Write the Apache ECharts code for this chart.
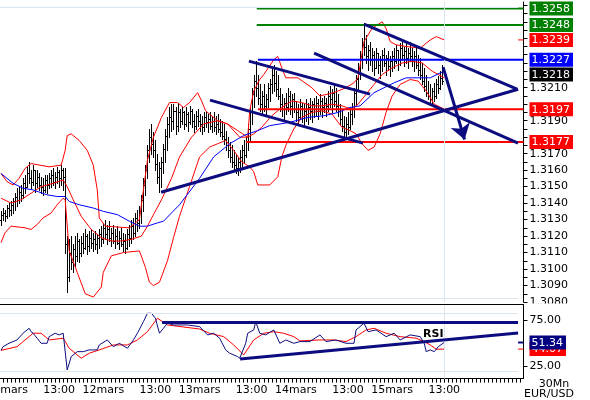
<!DOCTYPE html>
<html><head><meta charset="utf-8">
<script src="https://cdn.jsdelivr.net/npm/echarts@6/dist/echarts.min.js"></script>
<style>html,body{margin:0;padding:0;background:#fff}#c{width:590px;height:400px}</style>
</head><body><div id="c"></div>
<script>
// ---------- DATA (prices in pips above 1.3000, 30-min bars from 10mars 22:30) ----------
const opens = [130,133,134,132,137,136,139,141,144,142,147,145,152,150,158,155,153,160,152,156,
151,150,148,154,151,155,157,153,156,159,155,160,156,115,95,110,104,112,108,117,
110,116,113,120,114,119,116,118,115,119,121,118,125,121,124,119,122,117,120,116,
119,115,117,113,121,119,126,122,131,128,135,142,151,160,172,180,176,172,164,156,
161,165,173,181,188,192,190,196,187,195,190,195,188,194,189,196,190,187,193,190,
188,186,192,189,191,187,190,186,188,185,183,181,179,175,172,168,165,163,161,165,
168,172,169,177,185,195,206,214,210,204,200,205,199,203,210,212,218,213,209,205,
200,197,201,198,205,199,203,197,195,192,199,193,196,194,198,196,200,197,201,196,
202,198,201,199,205,203,207,202,199,196,191,187,183,188,186,194,197,207,215,222,
229,236,235,229,233,227,230,222,231,224,227,230,225,228,223,226,229,226,233,227,
234,230,232,228,231,229,226,229,224,221,218,214,211,207,205,203,208,205,212,210,216,214];
const highs = [135,137,136,139,140,141,143,146,149,150,151,155,157,162,165,160,163,160,160,158,
156,155,157,157,158,160,161,159,162,160,163,161,161,120,118,120,115,120,122,118,
120,122,124,121,123,124,122,123,121,124,126,128,130,127,129,125,127,124,126,123,
125,122,121,124,127,130,131,134,136,138,145,155,163,175,185,188,183,178,170,165,
168,176,185,192,198,200,200,198,201,197,198,196,198,195,199,197,194,196,197,194,
193,195,196,194,195,193,195,193,194,191,190,188,184,180,177,175,172,170,168,172,
175,178,180,188,198,210,218,226,218,212,208,212,206,213,215,222,224,220,218,210,
206,204,207,210,208,206,207,202,200,203,201,200,203,201,204,202,204,205,203,206,
204,205,204,208,211,209,213,210,206,200,197,193,192,195,198,201,210,218,225,232,
240,249,242,236,238,234,232,234,231,229,233,234,230,232,229,232,234,236,233,237,
238,235,237,234,238,234,232,235,230,228,225,222,218,214,212,210,213,215,217,220,224,222];
const lows = [127,130,129,131,132,133,134,136,138,140,141,143,146,150,152,149,151,147,150,148,
146,145,147,146,149,150,151,149,152,150,151,148,110,86,93,100,98,102,105,104,
108,110,112,109,111,113,111,112,110,113,114,116,118,115,117,114,116,113,115,112,
114,111,110,112,114,116,118,120,123,125,128,135,145,155,165,170,168,160,152,147,
150,158,165,172,180,184,185,182,184,186,188,185,187,184,188,186,183,185,187,184,
182,184,186,183,185,183,184,182,183,181,179,176,172,168,165,162,160,158,157,159,
162,165,168,172,178,188,198,205,200,196,194,196,193,198,202,207,208,205,203,196,
193,191,194,196,194,192,195,190,188,191,189,187,190,188,191,189,192,193,191,194,
192,195,193,196,198,195,199,196,193,188,184,180,179,182,185,188,192,200,208,215,
222,230,225,221,224,220,218,222,219,216,220,223,218,221,217,220,222,225,221,224,
227,223,225,222,226,223,220,222,218,215,212,208,205,203,201,200,202,204,207,209,212,213];
const closes = [133,134,132,137,136,139,141,144,142,147,145,152,150,158,155,153,160,152,156,151,
150,148,154,151,155,157,153,156,159,155,160,156,115,95,110,104,112,108,117,110,
116,113,120,114,119,116,118,115,119,121,118,125,121,124,119,122,117,120,116,119,
115,117,113,121,119,126,122,131,128,135,142,151,160,172,180,176,172,164,156,161,
165,173,181,188,192,190,196,187,195,190,195,188,194,189,196,190,187,193,190,188,
186,192,189,191,187,190,186,188,185,183,181,179,175,172,168,165,163,161,165,168,
172,169,177,185,195,206,214,210,204,200,205,199,203,210,212,218,213,209,205,200,
197,201,198,205,199,203,197,195,192,199,193,196,194,198,196,200,197,201,196,202,
198,201,199,205,203,207,202,199,196,191,187,183,188,186,194,197,207,215,222,229,
236,235,229,233,227,230,222,231,224,227,230,225,228,223,226,229,226,233,227,234,
230,232,228,231,229,226,229,224,221,218,214,211,207,205,203,208,205,212,210,216,214,218];

// Bollinger bands and moving average, read as [bar index, pips]
const upperBand = [[0,158],[3,153],[6,151],[9,155],[12,161],[15,164],[24,162],[30,163],[32,172],[33,181],[35,182],[39,178],[43,172],[46,163],[48,148],[49,131],[52,126],[64,125],[69,130],[71,148],[73,166],[76,180],[80,192],[84,201],[88,201],[91,198],[94,201],[98,207],[100,202],[102,196],[108,190],[113,188],[119,180],[123,180],[124,196],[126,208],[129,215],[131,218],[136,227],[138,229],[140,222],[142,216],[148,216],[155,210],[159,205],[166,207],[172,210],[176,213],[178,216],[181,238],[185,246],[190,250],[192,246],[194,238],[197,236],[202,235],[209,234],[214,239],[217,241],[221,239]];
const middleBand = [[0,143],[5,140],[10,142],[15,146],[20,150],[26,152],[31,154],[33,150],[36,142],[40,132],[45,124],[50,119],[55,117],[60,117],[65,118],[70,120],[73,126],[76,133],[80,142],[85,155],[89,168],[95,180],[101,188],[108,190],[113,188],[118,184],[123,180],[126,182],[130,186],[135,193],[140,198],[145,202],[150,201],[155,199],[160,199],[165,200],[170,199],[175,197],[178,200],[182,206],[186,212],[190,218],[195,222],[200,225],[205,226],[210,225],[215,220],[221,216]];
const lowerBand = [[0,116],[2,122],[5,126],[12,125],[15,124],[18,127],[21,131],[25,134],[28,139],[31,143],[32,142],[34,111],[38,98],[42,85],[46,83],[50,89],[51,98],[55,108],[61,110],[69,111],[72,101],[74,92],[76,90],[79,92],[83,105],[86,119],[89,132],[94,150],[99,168],[104,174],[108,176],[112,178],[116,172],[120,165],[124,162],[126,159],[128,151],[134,151],[138,156],[140,168],[142,175],[146,185],[150,192],[155,195],[160,196],[165,194],[170,186],[174,184],[177,182],[180,176],[183,172],[186,174],[189,182],[192,195],[195,205],[199,212],[204,215],[208,214],[212,208],[216,200],[221,197]];
const movingAvg = [[0,158],[3,155],[6,152],[11,149],[16,148],[23,145],[28,144],[32,144],[34,141],[39,139],[46,137],[51,135],[58,133],[64,129],[69,126],[73,126],[78,128],[81,129],[89,139],[99,155],[106,168],[114,176],[121,181],[128,184],[134,187],[144,189],[153,192],[161,193],[168,195],[174,198],[179,199],[186,207],[196,213],[202,216],[209,216],[214,216],[219,219],[221,220]];

// RSI and its signal line, [bar index, value]
const rsi = [[0,42.7],[1,46.7],[4,50.4],[8,54],[11,61.3],[14,66.7],[15,63],[16,61.3],[18,55.9],[20,50.4],[23,50.4],[24,57.6],[27,61.3],[29,59.5],[31,61.3],[33,21.4],[35,35.9],[38,41.3],[41,41.3],[44,43.2],[48,43.2],[49,48.6],[53,54],[56,46.7],[59,50.4],[63,45],[66,54],[68,61.3],[71,73.9],[73,83],[75,83],[77,77.6],[79,61.3],[81,66.7],[83,72.2],[86,70.3],[93,70.3],[99,68.5],[103,59.5],[106,61.3],[109,55.9],[112,43.2],[114,39.6],[118,35.9],[119,34.1],[122,50.4],[123,61.3],[126,64.9],[127,73.9],[129,61.3],[132,59.5],[136,64.9],[139,50.4],[142,54],[146,50.4],[149,52.2],[154,52.2],[159,59.5],[162,52.2],[167,54],[172,50.4],[176,50.4],[177,64.9],[181,72.2],[183,63],[187,64.9],[192,57.6],[196,61.3],[199,54],[204,59.5],[209,57.6],[211,50.4],[212,41.3],[214,43.2],[216,41.3],[218,46.7],[221,51.34]];
const rsiSignal = [[0,42.7],[8,46.7],[16,61.3],[20,61.3],[24,54],[31,55.9],[34,45],[40,34.1],[44,39.6],[49,43.2],[56,48.6],[63,48.6],[68,54],[73,63],[78,77.6],[83,70.3],[99,65.9],[104,61.3],[111,57.6],[116,48.6],[121,37.7],[126,54],[131,61.3],[136,63],[141,61.3],[146,57.6],[149,53],[159,54],[166,54],[172,52.2],[177,57.6],[182,64.9],[186,66.7],[192,61.3],[199,57.6],[207,55.9],[211,52.2],[214,48.6],[217,43.9],[221,44.07]];

// horizontal levels: value, first bar index
const levelValues = [1.3258, 1.3248, 1.3227, 1.3197, 1.3177];
const levelStart = [127.5, 127.5, 128.1, 128.1, 122.2];
// trend lines in price panel: [idx1, pips1, idx2, pips2]
const trendLines = [[104.2,202.5,180.5,176.4],[123.6,226.1,184.0,206.1],[156.1,231.0,257.8,176.4],[181.0,248.6,257.3,209.1],[79.8,146.6,257.8,209.1]];
const arrowLine = [220.4,222.5,231.1,178.6];
// trend lines in RSI panel: [idx1, rsi1, idx2, rsi2]
const rsiTrendLines = [[80.3,73.5,257.8,73.5],[119.2,33.3,257.8,61.6]];

// axis labels
const timeTickIdx = [3,29,51,77,99,125,147,173,195,221];
const timeTickText = ['11mars','13:00','12mars','13:00','13mars','13:00','14mars','13:00','15mars','13:00'];
const priceLabels = [1.3080,1.3090,1.3100,1.3110,1.3120,1.3130,1.3140,1.3150,1.3160,1.3170,1.3190,1.3210];
const priceBoxValues = [1.3258,1.3248,1.3239,1.3227,1.3218,1.3197,1.3177];
const priceBoxKinds = ['g','g','r','b','k','r','r'];
const upperBandLast = 1.3239;
const rsiLabels = [25,75];
const rsiLastValue = 51.34;
const rsiSignalLastValue = 44.07;

// ---------- BUILD ----------
const FONT = 'DejaVu Sans';
const NAVY = '#0c0c80';
const toPrice = p => 1.3 + p / 10000;
const X_MIN = -0.5, X_MAX = 260.5;
const P_MIN = 1.3080, P_MAX = 1.3262;
const R_MIN = 12, R_MAX = 92;
const MARK_FROM = 257.8;

const ohlc = opens.map((o, i) => [i, toPrice(o), toPrice(highs[i]), toPrice(lows[i]), toPrice(closes[i])]);
const pts = arr => arr.map(d => [d[0], toPrice(d[1])]);

const xTicks = []; for (let i = 1; i < 261; i += 2) xTicks.push(i);
const pTicks = []; for (let k = 0; k <= 36; k++) pTicks.push(+(1.3080 + k * 0.0005).toFixed(4));

function boxRich(bg) {
  return {backgroundColor: bg, color: '#fff', fontFamily: FONT, fontSize: 11, padding: [2, 3, 1, 2], lineHeight: 11};
}
const rich = {g: boxRich('#008000'), r: boxRich('#ff0000'), b: boxRich('#0000ff'), k: boxRich('#000000'), n: boxRich('#000080')};

const levelColorOf = ['#008000', '#008000', '#0000ff', '#ff0000', '#ff0000'];

const series = [];
series.push({
  type: 'custom', xAxisIndex: 0, yAxisIndex: 0, z: 2, clip: true, silent: true,
  encode: {x: 0, y: [1, 2, 3, 4]},
  renderItem(params, api) {
    const x = api.value(0);
    const pH = api.coord([x, api.value(2)]), pL = api.coord([x, api.value(3)]);
    const pO = api.coord([x, api.value(1)]), pC = api.coord([x, api.value(4)]);
    const cx = Math.round(pH[0]) + 0.5;
    const st = {stroke: '#000', lineWidth: 1};
    const yo = Math.round(pO[1]) + 0.5, yc = Math.round(pC[1]) + 0.5;
    return {type: 'group', children: [
      {type: 'line', shape: {x1: cx, y1: Math.round(pH[1]), x2: cx, y2: Math.round(pL[1]) + 1}, style: st},
      {type: 'line', shape: {x1: cx - 1.5, y1: yo, x2: cx, y2: yo}, style: st},
      {type: 'line', shape: {x1: cx, y1: yc, x2: cx + 1.5, y2: yc}, style: st}
    ]};
  },
  data: ohlc
});

function lineSeries(data, color, xi, yi, z, extra) {
  return Object.assign({type: 'line', xAxisIndex: xi, yAxisIndex: yi, data, symbol: 'none', showSymbol: false,
    z, silent: true, lineStyle: {color, width: 1}, animation: false}, extra || {});
}
const frameColor = '#dbe5ee';
series.push(lineSeries(pts(upperBand), '#ff0000', 0, 0, 3));
series.push(lineSeries(pts(middleBand), '#ff0000', 0, 0, 3));
series.push(lineSeries(pts(lowerBand), '#ff0000', 0, 0, 3));
series.push(lineSeries(pts(movingAvg), '#0000ff', 0, 0, 3, {
  markLine: {silent: true, symbol: 'none', label: {show: false}, lineStyle: {color: frameColor, width: 1, type: 'solid'},
    data: [
      [{coord: [X_MIN, 1.32590]}, {coord: [MARK_FROM, 1.32590]}],
      [{coord: [X_MIN, 1.30824]}, {coord: [MARK_FROM, 1.30824]}],
      [{coord: [221, P_MIN]}, {coord: [221, P_MAX]}]
    ]}
}));
// current upper-band marker near the axis
series.push(lineSeries([[MARK_FROM, upperBandLast], [X_MAX, upperBandLast]], '#ff0000', 0, 0, 4));

levelValues.forEach((v, k) => {
  series.push(lineSeries([[levelStart[k], v], [X_MAX, v]], levelColorOf[k], 0, 0, 4, {lineStyle: {color: levelColorOf[k], width: 2}}));
});

series.push({
  type: 'lines', coordinateSystem: 'cartesian2d', xAxisIndex: 0, yAxisIndex: 0, z: 5, silent: true,
  lineStyle: {color: NAVY, width: 3, opacity: 1},
  data: trendLines.map(t => ({coords: [[t[0], toPrice(t[1])], [t[2], toPrice(t[3])]]}))
});
series.push({
  type: 'lines', coordinateSystem: 'cartesian2d', xAxisIndex: 0, yAxisIndex: 0, z: 5, silent: true,
  symbol: ['none', 'arrow'], symbolSize: 15,
  lineStyle: {color: NAVY, width: 3, opacity: 1},
  data: [{coords: [[arrowLine[0], toPrice(arrowLine[1])], [arrowLine[2], toPrice(arrowLine[3])]]}]
});

// RSI panel
series.push(lineSeries(rsiSignal, '#ff0000', 1, 1, 4));
series.push(lineSeries(rsi, NAVY, 1, 1, 4, {
  markLine: {silent: true, symbol: 'none', label: {show: false}, lineStyle: {color: frameColor, width: 1, type: 'solid'},
    data: [
      [{coord: [X_MIN, 83.3]}, {coord: [MARK_FROM, 83.3]}],
      [{coord: [X_MIN, 20.3]}, {coord: [MARK_FROM, 20.3]}],
      [{coord: [221, R_MIN]}, {coord: [221, R_MAX]}]
    ]}
}));
series.push(lineSeries([[MARK_FROM, rsiSignalLastValue], [X_MAX, rsiSignalLastValue]], '#ff0000', 1, 1, 4));
series.push(lineSeries([[MARK_FROM, rsiLastValue], [X_MAX, rsiLastValue]], NAVY, 1, 1, 4, {lineStyle: {color: NAVY, width: 2}}));
series.push({
  type: 'lines', coordinateSystem: 'cartesian2d', xAxisIndex: 1, yAxisIndex: 1, z: 5, silent: true,
  lineStyle: {color: NAVY, width: 3, opacity: 1},
  data: rsiTrendLines.map(t => ({coords: [[t[0], t[1]], [t[2], t[3]]]}))
});

function findKind(v, vals, kinds) {
  for (let i = 0; i < vals.length; i++) if (Math.abs(vals[i] - v) < 1e-7) return kinds[i];
  return null;
}
const noLine = {show: false};
const baseLabel = {margin: 6, color: '#000', fontFamily: FONT, fontSize: 11, rich, showMinLabel: true, showMaxLabel: true, hideOverlap: false};

const option = {
  animation: false,
  backgroundColor: '#fff',
  textStyle: {fontFamily: FONT},
  grid: [
    {left: 0, top: 2, width: 523.5, height: 300, containLabel: false, outerBoundsMode: 'none'},
    {left: 0, top: 305, width: 523.5, height: 73.6, containLabel: false, outerBoundsMode: 'none'}
  ],
  xAxis: [
    {type: 'value', gridIndex: 0, min: X_MIN, max: X_MAX, show: false},
    {type: 'value', gridIndex: 1, min: X_MIN, max: X_MAX, position: 'bottom', z: 3,
      axisLine: {show: true, onZero: false, lineStyle: {color: '#000', width: 1}},
      axisTick: {show: true, length: 4, customValues: xTicks, lineStyle: {color: '#000'}},
      splitLine: {show: false},
      axisLabel: Object.assign({}, baseLabel, {customValues: timeTickIdx,
        formatter: v => timeTickText[timeTickIdx.indexOf(v)] || ''})
    }
  ],
  yAxis: [
    {type: 'value', gridIndex: 0, position: 'right', min: P_MIN, max: P_MAX, z: 0,
      axisLine: {show: true, onZero: false, lineStyle: {color: '#000', width: 1}},
      axisTick: {show: true, length: 4, customValues: pTicks, lineStyle: {color: '#000'}},
      splitLine: {show: false},
      axisLabel: Object.assign({}, baseLabel, {customValues: priceLabels.concat(priceBoxValues),
        formatter: v => { const k = findKind(v, priceBoxValues, priceBoxKinds); const t = v.toFixed(4); return k ? '{' + k + '|' + t + '}' : t; }})
    },
    {type: 'value', gridIndex: 1, position: 'right', min: R_MIN, max: R_MAX, z: 3,
      axisLine: {show: true, onZero: false, lineStyle: {color: '#000', width: 1}},
      axisTick: {show: true, length: 4, customValues: rsiLabels, lineStyle: {color: '#000'}},
      splitLine: {show: false},
      axisLabel: Object.assign({}, baseLabel, {customValues: rsiLabels, formatter: v => v.toFixed(2)})
    },
    {type: 'value', gridIndex: 1, position: 'right', min: R_MIN, max: R_MAX, z: 4,
      axisLine: noLine, axisTick: noLine, splitLine: noLine,
      axisLabel: Object.assign({}, baseLabel, {customValues: [rsiSignalLastValue], formatter: v => '{r|' + v.toFixed(2) + '}'})
    },
    {type: 'value', gridIndex: 1, position: 'right', min: R_MIN, max: R_MAX, z: 5,
      axisLine: noLine, axisTick: noLine, splitLine: noLine,
      axisLabel: Object.assign({}, baseLabel, {customValues: [rsiLastValue], formatter: v => '{n|' + v.toFixed(2) + '}'})
    }
  ],
  graphic: [
    {type: 'rect', z: 1, silent: true, shape: {x: 0, y: 303.5, width: 590, height: 97}, style: {fill: '#fff'}},
    {type: 'line', z: 6, silent: true, shape: {x1: 0, y1: 304.5, x2: 524, y2: 304.5}, style: {stroke: '#000', lineWidth: 1}},
    {type: 'text', z: 6, silent: true, x: 423, y: 334.5, style: {text: 'RSI', font: 'bold 11px "DejaVu Sans"', fill: '#000', verticalAlign: 'middle'}},
    {type: 'text', z: 6, silent: true, x: 554, y: 384, style: {text: '30Mn', font: '11px "DejaVu Sans"', fill: '#000', align: 'center', verticalAlign: 'middle'}},
    {type: 'text', z: 6, silent: true, x: 549, y: 394.5, style: {text: 'EUR/USD', font: '11px "DejaVu Sans"', fill: '#000', align: 'center', verticalAlign: 'middle'}}
  ],
  series
};

const chart = echarts.init(document.getElementById('c'), null, {renderer: 'canvas'});
chart.setOption(option);
</script></body></html>
